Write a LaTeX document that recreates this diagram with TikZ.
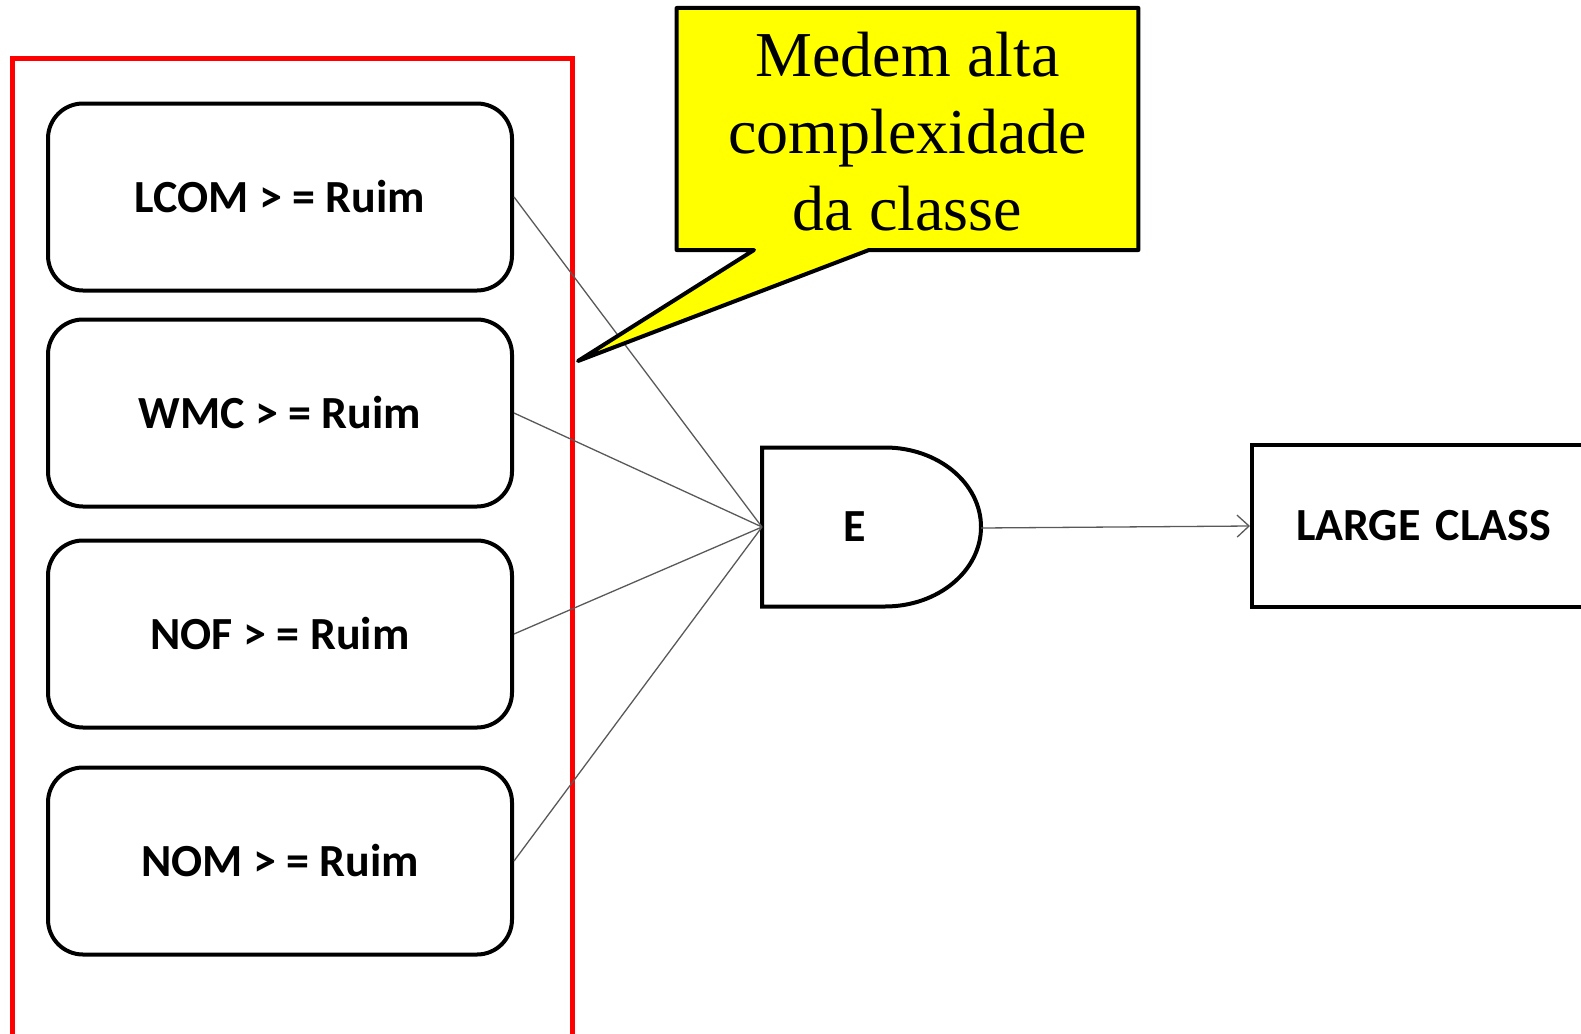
\documentclass[tikz,border=0pt]{standalone}
\usepackage{fontspec}
\setsansfont{Carlito}
\newfontfamily\notafont{Liberation Serif}
\usepackage{tikz}
\usetikzlibrary{arrows.meta}
\definecolor{amarelo}{RGB}{255,255,0}
\definecolor{vermelho}{RGB}{255,0,0}
\tikzset{>={Straight Barb[length=12pt,width=22pt]}}

\begin{document}
\begin{tikzpicture}[x=1pt,y=1pt,font=\sffamily\bfseries\fontsize{46}{55}\selectfont]
	\path[use as bounding box,clip] (0,0) rectangle (1581,-1033);
	\node[draw=vermelho,line width=4.5pt,anchor=north west,minimum width=560pt,minimum height=1000pt] (grupo) at (10,-56.5) {};
	\node[draw,line width=4pt,rounded corners=35pt,minimum width=464pt,minimum height=187pt] (lcom) at (280,-197) {LCOM > = Ruim};
	\node[draw,line width=4pt,rounded corners=35pt,minimum width=464pt,minimum height=187pt] (wmc) at (280,-413) {WMC > = Ruim};
	\node[draw,line width=4pt,rounded corners=35pt,minimum width=464pt,minimum height=187pt] (nof) at (280,-634) {NOF > = Ruim};
	\node[draw,line width=4pt,rounded corners=35pt,minimum width=464pt,minimum height=187pt] (nom) at (280,-861) {NOM > = Ruim};
	% porta E
	\draw[line width=4pt] (762,-447.5) -- (885,-447.5) arc[start angle=90,end angle=-90,x radius=96,y radius=79.5] -- (762,-606.5) -- cycle;
	\node (porta) at (855,-527) {E};
	\coordinate (entrada) at (762,-527);
	\coordinate (saida) at (981,-528);
	\node[draw,line width=4pt,anchor=west,minimum height=162pt,inner xsep=44pt,text width=320pt,align=left] (classe) at (1250,-526) {LARGE CLASS};
	\draw[black!65,line width=1.3pt] (lcom.east) -- (entrada) (wmc.east) -- (entrada) (nof.east) -- (entrada) (nom.east) -- (entrada);
	\draw[->,black!65,line width=1.3pt] (saida) -- (classe.west);
	% balao
	\draw[fill=amarelo,line width=4pt,line join=round] (676.6,-8) -- (1138.4,-8) -- (1138.4,-250) -- (869,-250) -- (578,-361) -- (754,-250) -- (676.6,-250) -- cycle;
	\node[font=\notafont\mdseries\fontsize{64}{77}\selectfont,align=center] (nota) at (907.5,-132) {Medem alta\\complexidade\\da classe};
\end{tikzpicture}
\end{document}
